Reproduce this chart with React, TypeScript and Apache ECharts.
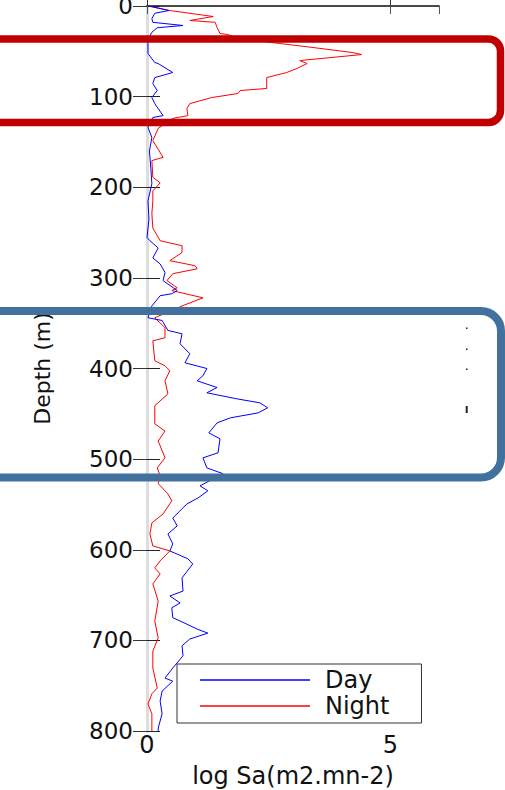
import React, { useEffect, useRef } from "react";
import * as echarts from "echarts";

// Night (red) profile: depth (m) and log Sa
const nightDepth = [0.5, 5, 11.6, 16, 18, 23.7, 30.4, 31.5, 36, 45.8, 51.4, 53.6, 60.2, 63.5, 69, 73.4, 79, 91, 93.3, 96.6, 101, 107.7, 113, 121, 124, 135, 148.5, 167, 170.6, 189, 195, 204, 215, 229, 245, 259, 264.5, 272, 281, 286.6, 290, 295.4, 303, 311, 314, 322, 331, 344, 355, 366, 369.5, 391.5, 397, 402.5, 413.6, 428, 441, 461, 469, 480, 498.6, 509.7, 518.5, 527, 538.4, 546, 560.5, 570.4, 582.6, 595.8, 601.3, 612.3, 620, 626.7, 637.7, 656.6, 678.6, 697.4, 711.8, 730.5, 752.6, 759, 770.3, 781, 796.8, 800];
const nightValue = [0.06, 0.47, 1.36, 0.88, 1.40, 1.44, 1.50, 1.66, 1.90, 3.41, 4.23, 4.41, 3.14, 3.29, 3.08, 2.87, 2.46, 2.46, 1.91, 1.87, 1.33, 0.88, 0.82, 0.84, 0.53, 0.23, 0.12, 0.33, 0.10, 0.12, 0.27, 0.12, 0.12, 0.10, 0.12, 0.27, 0.72, 0.72, 0.47, 0.99, 1.03, 0.53, 0.41, 0.62, 0.51, 1.15, 0.72, 0.16, 0.37, 0.37, 0.12, 0.16, 0.37, 0.47, 0.37, 0.43, 0.16, 0.16, 0.37, 0.23, 0.37, 0.21, 0.27, 0.23, 0.43, 0.51, 0.33, 0.10, 0.06, 0.12, 0.47, 0.27, 0.16, 0.27, 0.12, 0.23, 0.16, 0.23, 0.12, 0.12, 0.21, 0.10, 0.02, 0.10, 0.10, 0.10];

// Day (blue) profile: depth (m) and log Sa
const dayDepth = [0, 5, 8, 14, 18, 21.5, 24, 29, 33, 41, 52.5, 62.4, 63.5, 73.4, 79, 85.6, 93.3, 101, 107.7, 121, 123, 134, 145, 160, 180, 196, 215, 235, 255.6, 259, 267, 278, 284.6, 294, 303, 314, 317.5, 319.7, 331, 344, 347, 358, 361.7, 372.7, 383.7, 393.7, 400, 408, 413.6, 421, 426.8, 433.5, 437.9, 443.4, 449, 454.5, 460, 471, 477.6, 493, 498.6, 509.7, 516, 529.5, 535, 542.8, 549.4, 565, 573.7, 582.6, 593.6, 601.3, 610, 615.7, 631, 645.6, 651, 658.7, 664, 675, 678.6, 687.5, 692, 698.5, 706, 717, 730.5, 741.6, 745, 756, 767, 781, 796.8, 800];
const dayValue = [0.05, 0.45, 0.16, 0.10, 0.12, 0.74, 0.21, 0.10, 0.06, 0.02, 0.02, 0.16, 0.23, 0.53, 0.16, 0.12, 0.21, 0.10, 0.16, 0.33, 0.12, 0.02, 0.10, 0.05, 0.08, 0.10, 0.02, 0.04, 0.00, 0.06, 0.23, 0.12, 0.27, 0.37, 0.33, 0.62, 0.51, 0.27, 0.10, 0.02, 0.31, 0.43, 0.72, 0.68, 0.88, 0.78, 1.23, 1.15, 1.03, 1.44, 1.23, 1.85, 2.32, 2.48, 2.28, 1.71, 1.44, 1.27, 1.50, 1.46, 1.15, 1.23, 1.56, 1.09, 1.25, 1.05, 0.82, 0.53, 0.62, 0.43, 0.53, 0.47, 0.84, 0.94, 0.72, 0.74, 0.47, 0.68, 0.51, 0.53, 0.68, 1.03, 1.25, 0.88, 0.72, 0.74, 0.53, 0.37, 0.53, 0.31, 0.27, 0.31, 0.23, 0.23];

const seriesNames = ["Day", "Night"];
const depthTicks = { min: 0, max: 800, interval: 100 };
const saTicks = { min: 0, max: 6, interval: 5 };

const FONT = "DejaVu Sans";

export default function App() {
  const ref = useRef<HTMLDivElement>(null);

  useEffect(() => {
    if (!ref.current) return;
    const chart = echarts.init(ref.current, undefined, { renderer: "svg" });

    const dayData = dayDepth.map((d, i) => [dayValue[i], d]);
    const nightData = nightDepth.map((d, i) => [nightValue[i], d]);

    chart.setOption({
      animation: false,
      backgroundColor: "#ffffff",
      grid: {
        left: 147,
        right: 66,
        top: 6,
        bottom: 59,
        show: false,
        containLabel: false,
        outerBoundsMode: "none",
      },
      legend: {
        orient: "vertical",
        left: 177,
        top: 664,
        data: seriesNames,
        icon: "rect",
        itemWidth: 110,
        itemHeight: 1.3,
        itemGap: 2,
        padding: [4, 32, 5, 23],
        borderColor: "#333",
        borderWidth: 1,
        backgroundColor: "#ffffff",
        textStyle: {
          fontFamily: FONT,
          fontSize: 24,
          color: "#111",
          lineHeight: 23,
          padding: [0, 0, 0, 10],
        },
      },
      xAxis: [
        {
          type: "value",
          position: "bottom",
          min: saTicks.min,
          max: saTicks.max,
          interval: saTicks.interval,
          name: "log Sa(m2.mn-2)",
          nameLocation: "middle",
          nameGap: 33,
          nameTextStyle: { fontFamily: FONT, fontSize: 24, color: "#111" },
          axisLine: { show: true, lineStyle: { color: "#222", width: 1.5 } },
          axisTick: { show: true, inside: true, length: 8, lineStyle: { color: "#333" } },
          axisLabel: { fontFamily: FONT, fontSize: 24, color: "#111", margin: 2, showMaxLabel: false },
          splitLine: { show: false },
        },
        {
          type: "value",
          position: "top",
          min: saTicks.min,
          max: saTicks.max,
          interval: saTicks.interval,
          axisLine: { show: true, lineStyle: { color: "#444", width: 1.5 } },
          axisTick: { show: true, inside: true, length: 8, lineStyle: { color: "#555" } },
          axisLabel: { show: false },
          splitLine: { show: false },
        },
      ],
      yAxis: [
        {
          type: "value",
          position: "left",
          inverse: true,
          min: depthTicks.min,
          max: depthTicks.max,
          interval: depthTicks.interval,
          name: "Depth (m)",
          nameLocation: "middle",
          nameGap: 94,
          nameRotate: 90,
          nameTextStyle: { fontFamily: FONT, fontSize: 22, color: "#111" },
          axisLine: { show: true, lineStyle: { color: "#aaaaaa", width: 3 } },
          axisTick: { show: true, inside: true, length: 13, lineStyle: { color: "#222" } },
          axisLabel: { fontFamily: FONT, fontSize: 23, color: "#111", margin: 14 },
          splitLine: { show: false },
        },
        {
          type: "value",
          position: "right",
          inverse: true,
          min: depthTicks.min,
          max: depthTicks.max,
          interval: depthTicks.interval,
          axisLine: { show: true, lineStyle: { color: "#dddddd", width: 3 } },
          axisTick: { show: true, inside: true, length: 14, lineStyle: { color: "#333" } },
          axisLabel: { show: false },
          splitLine: { show: false },
        },
      ],
      series: [
        {
          name: seriesNames[0],
          type: "line",
          data: dayData,
          symbol: "none",
          lineStyle: { color: "#0000ff", width: 1 },
          itemStyle: { color: "#0000ff" },
          z: 3,
        },
        {
          name: seriesNames[1],
          type: "line",
          data: nightData,
          symbol: "none",
          lineStyle: { color: "#ff0000", width: 1 },
          itemStyle: { color: "#ff0000" },
          z: 2,
        },
      ],
      graphic: [
        {
          type: "rect",
          z: 100,
          shape: { x: -30, y: 39, width: 530.5, height: 83.5, r: 12 },
          style: { fill: "none", stroke: "#c00000", lineWidth: 7.5 },
        },
        {
          type: "rect",
          z: 100,
          shape: { x: -30, y: 311, width: 531, height: 166.5, r: 20 },
          style: { fill: "none", stroke: "#41719c", lineWidth: 8 },
        },
        { type: "rect", z: 100, shape: { x: 466, y: 327.5, width: 1.5, height: 1.5 }, style: { fill: "#222" } },
        { type: "rect", z: 100, shape: { x: 466, y: 348.5, width: 1.5, height: 1.5 }, style: { fill: "#222" } },
        { type: "rect", z: 100, shape: { x: 466, y: 368.5, width: 1.5, height: 1.5 }, style: { fill: "#222" } },
        { type: "rect", z: 100, shape: { x: 465.7, y: 406, width: 2, height: 7 }, style: { fill: "#222" } },
      ],
    });

    return () => chart.dispose();
  }, []);

  return (
    <div
      ref={ref}
      style={{ position: "absolute", left: 0, top: 0, width: 505, height: 790, background: "#fff" }}
    />
  );
}
